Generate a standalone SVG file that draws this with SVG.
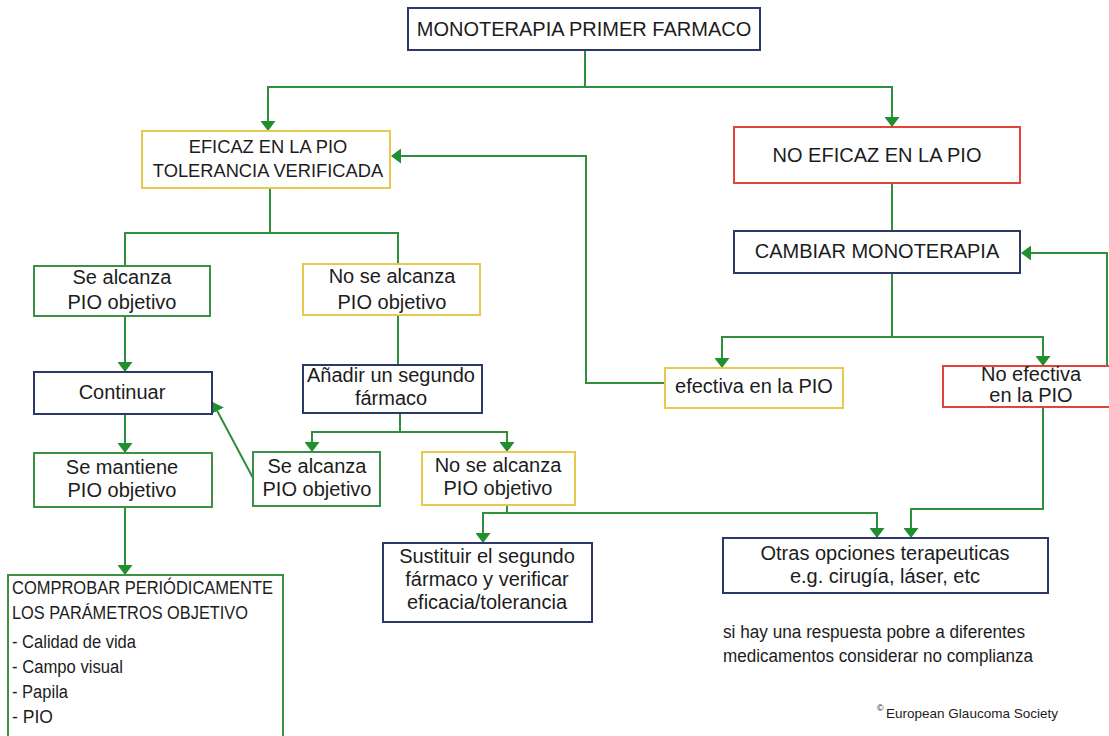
<svg xmlns="http://www.w3.org/2000/svg" width="1109" height="736" viewBox="0 0 1109 736">
  <style>
    text { font-family: "Liberation Sans", Arial, sans-serif; fill: #1c1c1c; }
    .box { fill: #ffffff; stroke-width: 2; }
    .green { stroke: #3c9046; }
    .yellow { stroke: #e7c94c; }
    .red { stroke: #e2433b; }
    .navy { stroke: #2d3768; }
    .c { text-anchor: middle; font-size: 20px; }
    .cs { text-anchor: middle; font-size: 18.3px; }
    .list { font-size: 18px; }
    .note { font-size: 18px; }
    .link { fill: none; stroke: #2f8f3c; stroke-width: 2; }
    .arrow { marker-end: url(#head); }
  </style>
  <defs>
    <marker id="head" markerUnits="userSpaceOnUse" viewBox="0 0 10 15" markerWidth="10" markerHeight="15" refX="9" refY="7.5" orient="auto">
      <path d="M0,0 L10,7.5 L0,15 z" fill="#1f8f2f"/>
    </marker>
  </defs>
  <rect width="1109" height="736" fill="#ffffff"/>

  <g id="connectors">
    <path class="link" d="M585,50 V87"/>
    <path class="link arrow" d="M585,87 H268 V130"/>
    <path class="link arrow" d="M585,87 H892 V126"/>
    <path class="link arrow" d="M665,383 H586 V156 H392"/>
    <path class="link" d="M270,188 V233 H125 V266"/>
    <path class="link" d="M270,233 H398 V264"/>
    <path class="link arrow" d="M125,316 V371"/>
    <path class="link arrow" d="M125,414 V452"/>
    <path class="link arrow" d="M125,507 V574"/>
    <path class="link" d="M398,315 V365"/>
    <path class="link" d="M400,413 V432"/>
    <path class="link arrow" d="M400,432 H312 V451"/>
    <path class="link arrow" d="M400,432 H507 V451"/>
    <path class="link arrow" d="M253,478 L213,403"/>
    <path class="link" d="M507,505 V513"/>
    <path class="link arrow" d="M507,513 H483 V542"/>
    <path class="link arrow" d="M507,513 H877 V537"/>
    <path class="link" d="M892,183 V231"/>
    <path class="link" d="M892,273 V337"/>
    <path class="link arrow" d="M892,337 H722 V367"/>
    <path class="link arrow" d="M892,337 H1043 V365"/>
    <path class="link arrow" d="M1043,407 V509 H911 V537"/>
    <path class="link arrow" d="M1107,366 V253 H1022"/>
  </g>

  <g id="monoterapia">
    <rect class="box navy" x="408" y="8" width="352" height="42"/>
    <text class="c" x="584" y="36" font-size="20.5">MONOTERAPIA PRIMER FARMACO</text>
  </g>

  <g id="eficaz">
    <rect class="box yellow" x="142" y="131" width="248" height="57"/>
    <text class="cs" x="268" y="153">EFICAZ EN LA PIO</text>
    <text class="cs" x="268" y="177">TOLERANCIA VERIFICADA</text>
  </g>

  <g id="no-eficaz">
    <rect class="box red" x="734" y="127" width="286" height="56"/>
    <text class="c" x="877" y="162">NO EFICAZ EN LA PIO</text>
  </g>

  <g id="cambiar">
    <rect class="box navy" x="734" y="231" width="286" height="42"/>
    <text class="c" x="877" y="258">CAMBIAR MONOTERAPIA</text>
  </g>

  <g id="se-alcanza-1">
    <rect class="box green" x="34" y="266" width="176" height="50"/>
    <text class="c" x="122" y="284">Se alcanza</text>
    <text class="c" x="122" y="309">PIO objetivo</text>
  </g>

  <g id="no-se-alcanza-1">
    <rect class="box yellow" x="303" y="264" width="177" height="51"/>
    <text class="c" x="392" y="283">No se alcanza</text>
    <text class="c" x="392" y="309">PIO objetivo</text>
  </g>

  <g id="continuar">
    <rect class="box navy" x="34" y="372" width="178" height="42"/>
    <text class="c" x="122" y="399">Continuar</text>
  </g>

  <g id="anadir">
    <rect class="box navy" x="303" y="365" width="179" height="48"/>
    <text class="c" x="391" y="382">Añadir un segundo</text>
    <text class="c" x="391" y="405">fármaco</text>
  </g>

  <g id="se-mantiene">
    <rect class="box green" x="34" y="453" width="178" height="54"/>
    <text class="c" x="122" y="474">Se mantiene</text>
    <text class="c" x="122" y="497">PIO objetivo</text>
  </g>

  <g id="se-alcanza-2">
    <rect class="box green" x="253" y="452" width="127" height="54"/>
    <text class="c" x="317" y="473">Se alcanza</text>
    <text class="c" x="317" y="496">PIO objetivo</text>
  </g>

  <g id="no-se-alcanza-2">
    <rect class="box yellow" x="422" y="452" width="153" height="53"/>
    <text class="c" x="498" y="472">No se alcanza</text>
    <text class="c" x="498" y="495">PIO objetivo</text>
  </g>

  <g id="efectiva">
    <rect class="box yellow" x="665" y="368" width="178" height="40"/>
    <text class="c" x="754" y="393">efectiva en la PIO</text>
  </g>

  <g id="no-efectiva">
    <rect class="box red" x="943" y="366" width="175" height="41"/>
    <text class="c" x="1031" y="381" font-size="18">No efectiva</text>
    <text class="c" x="1031" y="402" font-size="18">en la PIO</text>
  </g>

  <g id="sustituir">
    <rect class="box navy" x="383" y="543" width="209" height="79"/>
    <text class="c" x="487" y="563">Sustituir el segundo</text>
    <text class="c" x="487" y="586">fármaco y verificar</text>
    <text class="c" x="487" y="609">eficacia/tolerancia</text>
  </g>

  <g id="otras">
    <rect class="box navy" x="723" y="538" width="325" height="55"/>
    <text class="c" x="885" y="560">Otras opciones terapeuticas</text>
    <text class="c" x="885" y="583">e.g. cirugía, láser, etc</text>
  </g>

  <g id="comprobar">
    <rect class="box green" x="8" y="575" width="275" height="170"/>
    <text class="list" x="12" y="594" textLength="261" lengthAdjust="spacingAndGlyphs">COMPROBAR PERIÓDICAMENTE</text>
    <text class="list" x="12" y="619" textLength="236" lengthAdjust="spacingAndGlyphs">LOS PARÁMETROS OBJETIVO</text>
    <text class="list" x="12" y="648" textLength="124" lengthAdjust="spacingAndGlyphs">- Calidad de vida</text>
    <text class="list" x="12" y="673" textLength="111" lengthAdjust="spacingAndGlyphs">- Campo visual</text>
    <text class="list" x="12" y="698" textLength="56" lengthAdjust="spacingAndGlyphs">- Papila</text>
    <text class="list" x="12" y="723" textLength="41" lengthAdjust="spacingAndGlyphs">- PIO</text>
  </g>

  <g id="nota">
    <text class="note" x="723" y="638" textLength="302" lengthAdjust="spacingAndGlyphs">si hay una respuesta pobre a diferentes</text>
    <text class="note" x="723" y="662" textLength="310" lengthAdjust="spacingAndGlyphs">medicamentos considerar no complianza</text>
  </g>

  <g id="copyright">
    <text x="877" y="711" font-size="9">©</text>
    <text x="886" y="718" font-size="13.5" textLength="172" lengthAdjust="spacingAndGlyphs">European Glaucoma Society</text>
  </g>
</svg>
